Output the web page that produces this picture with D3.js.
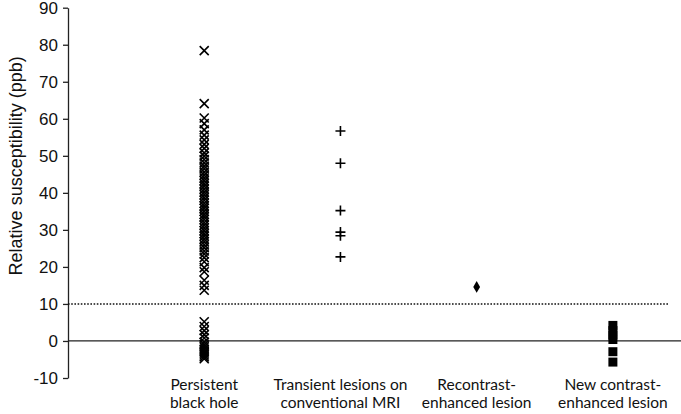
<!DOCTYPE html>
<html>
<head>
<meta charset="utf-8">
<script src="https://cdn.jsdelivr.net/npm/d3@7"></script>
<style>
  html, body { margin: 0; padding: 0; background: #fff; }
  svg { display: block; }
</style>
</head>
<body>
<div id="chart"></div>
<script>
// categories (two-line labels)
const categories = [
    ["Persistent", "black hole"],
    ["Transient lesions on", "conventional MRI"],
    ["Recontrast-", "enhanced lesion"],
    ["New contrast-", "enhanced lesion"]
];

// relative susceptibility (ppb) per lesion
const persistentBlackHole = [78.4, 64.1, 60.2, 58.7, 57.0, 55.6, 54.3, 53.1, 52.0, 50.8,
    49.9, 49.0, 48.1, 47.2, 46.5, 45.6, 44.8, 44.0, 43.3, 42.5, 41.8, 41.0, 40.2, 39.5,
    38.7, 38.0, 37.2, 36.5, 35.8, 35.0, 34.2, 33.5, 32.8, 32.0, 31.3, 30.5, 29.8, 29.0,
    28.3, 27.5, 26.8, 26.0, 25.2, 24.3, 23.5, 22.5, 21.4, 19.8, 18.7, 16.4, 15.0, 13.7,
    5.2, 3.9, 2.8, 1.7, 0.8, -0.3, -1.0, -1.6, -2.2, -2.8, -3.3, -3.8, -4.3, -4.8];
const transientLesions = [56.7, 48.0, 35.2, 29.4, 28.4, 22.7];
const recontrastEnhanced = [14.6];
const newContrastEnhanced = [4.2, 2.8, 1.6, 0.4, -2.9, -5.7];

const yTicks = [-10, 0, 10, 20, 30, 40, 50, 60, 70, 80, 90];
const thresholdLine = 10;

const width = 681, height = 414;
const svg = d3.select("#chart").append("svg")
    .attr("width", width)
    .attr("height", height);

const x = d3.scaleLinear().domain([0, 4.5]).range([68, 681]);
const y = d3.scaleLinear().domain([-10, 90]).range([378, 7.7]);

// y axis
const yAxis = svg.append("g")
    .attr("transform", `translate(${x(0)},0)`)
    .call(d3.axisLeft(y).tickValues(yTicks).tickFormat(d => String(d))
        .tickSize(5).tickPadding(5).tickSizeOuter(0));
yAxis.attr("font-family", "'Liberation Sans', Arial, sans-serif").attr("font-size", 17);
yAxis.select(".domain").attr("stroke", "#222").attr("stroke-width", 1.3);
yAxis.selectAll(".tick line").attr("stroke", "#222").attr("stroke-width", 1.3);
yAxis.selectAll(".tick text").attr("fill", "#111");

svg.append("text")
    .attr("transform", `translate(16,${(y(-10) + y(90)) / 2 - 27}) rotate(-90)`)
    .attr("text-anchor", "middle")
    .attr("dy", "0.35em")
    .style("font-family", "'Liberation Sans', Arial, sans-serif")
    .style("font-size", "18px")
    .attr("fill", "#111")
    .text("Relative susceptibility (ppb)");

// zero line and dotted threshold
svg.append("line")
    .attr("x1", x(0)).attr("x2", x(4.5))
    .attr("y1", y(0)).attr("y2", y(0))
    .attr("stroke", "#222").attr("stroke-width", 1.3);
svg.append("line")
    .attr("x1", x(0)).attr("x2", x(4.41))
    .attr("y1", y(thresholdLine)).attr("y2", y(thresholdLine))
    .attr("stroke", "#111").attr("stroke-width", 1.6)
    .attr("stroke-dasharray", "1.6,1.6");

// category labels
const labels = svg.append("g")
    .style("font-family", "Lato, 'Open Sans', sans-serif")
    .style("font-size", "15.5px")
    .attr("fill", "#111");
categories.forEach((lines, i) => {
    const t = labels.append("text")
        .attr("x", x(i + 1))
        .attr("y", 390)
        .attr("text-anchor", "middle");
    lines.forEach((l, j) => {
        t.append("tspan").attr("x", x(i + 1)).attr("dy", j === 0 ? 0 : 18).text(l);
    });
});

// markers
const crossPath = s => `M${-s},${-s}L${s},${s}M${-s},${s}L${s},${-s}`;
const plusPath = s => `M${-s},0L${s},0M0,${-s}L0,${s}`;

svg.append("g").selectAll("path")
    .data(persistentBlackHole).join("path")
    .attr("transform", d => `translate(${x(1)},${y(d)})`)
    .attr("d", crossPath(4.5))
    .attr("stroke", "#000").attr("stroke-width", 1.6).attr("fill", "none");

svg.append("g").selectAll("path")
    .data(transientLesions).join("path")
    .attr("transform", d => `translate(${x(2)},${y(d)})`)
    .attr("d", plusPath(5))
    .attr("stroke", "#000").attr("stroke-width", 1.6).attr("fill", "none");

svg.append("g").selectAll("path")
    .data(recontrastEnhanced).join("path")
    .attr("transform", d => `translate(${x(3)},${y(d)})`)
    .attr("d", d3.symbol(d3.symbolDiamond, 40)())
    .attr("fill", "#000");

svg.append("g").selectAll("path")
    .data(newContrastEnhanced).join("path")
    .attr("transform", d => `translate(${x(4)},${y(d)})`)
    .attr("d", d3.symbol(d3.symbolSquare, 81)())
    .attr("fill", "#000");
</script>
</body>
</html>
